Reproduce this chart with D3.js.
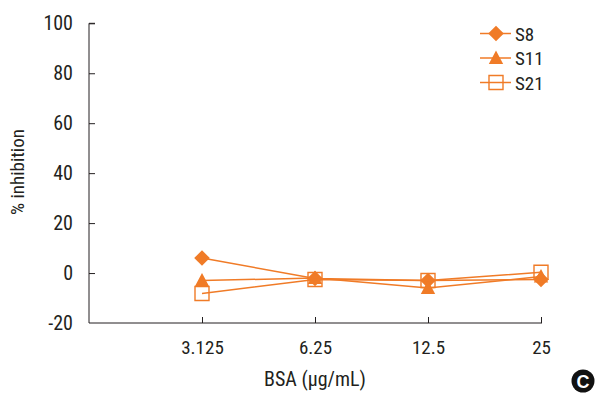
<!DOCTYPE html>
<html><head><meta charset="utf-8">
<script src="https://cdn.jsdelivr.net/npm/d3@7"></script>
<style>
body{margin:0;background:#fff;}
text{font-family:"Liberation Sans Narrow","Roboto Condensed","Arial Narrow",sans-serif;fill:#231f20;}
</style></head>
<body><svg id="c" width="598" height="395"></svg>
<script>
const categories = ["3.125","6.25","12.5","25"];
const S8  = [6, -2.2, -3, -2.6];
const S11 = [-3, -2, -6, -1.4];
const S21 = [-8.2, -2.6, -3, 0.3];
const yTicks = [-20,0,20,40,60,80,100];
const seriesNames = ["S8","S11","S21"];
const color = "#f07b27";

const svg = d3.select("#c");
const x = d3.scalePoint().domain(["", ...categories]).range([89, 541]);
const y = d3.scaleLinear().domain([-20,100]).range([323, 23.3]);

// Y axis
const ya = svg.append("g").attr("transform","translate(89,0)")
  .call(d3.axisLeft(y).tickValues(yTicks).tickSize(-6).tickPadding(16).tickFormat(d=>String(d)));
ya.select(".domain").attr("stroke","#231f20").attr("d", `M6,${y(100)}H0V${y(-20)}`);
ya.selectAll(".tick line").attr("stroke","#231f20");
ya.selectAll(".tick text").style("font-size","20px").attr("fill","#231f20");
ya.selectAll(".tick").filter(d=>d===-20).select("line").remove();

// X axis
const xa = svg.append("g").attr("transform","translate(0,323)")
  .call(d3.axisBottom(x).tickValues(categories).tickSize(-6).tickPadding(18));
xa.select(".domain").attr("stroke","#231f20").attr("d", `M89,0H${x("25")+1}`);
xa.selectAll(".tick line").attr("stroke","#231f20");
xa.selectAll(".tick text").style("font-size","19px").attr("fill","#231f20");

// axis titles
svg.append("text").attr("x",315).attr("y",386).attr("text-anchor","middle")
  .style("font-size","20px").text("BSA (μg/mL)");
svg.append("text").attr("transform","translate(24,172) rotate(-90)").attr("text-anchor","middle")
  .style("font-size","19px").text("% inhibition");

const data = [S8,S11,S21];
const shapePaths = [
  "M0,-7.8L7.8,0L0,7.8L-7.8,0Z",
  "M0,-7.5L7.2,6L-7.2,6Z",
  "M-7,-7H7V7H-7Z"
];
const line = d3.line().x((d,i)=>x(categories[i])).y(d=>y(d));

function marker(g, k, cx, cy){
  const p = g.append("path").attr("transform",`translate(${cx},${cy})`).attr("d", shapePaths[k]);
  if(k===2) p.attr("fill","none").attr("stroke",color).attr("stroke-width",1.4);
  else p.attr("fill",color);
}

data.forEach((vals,k)=>{
  const g = svg.append("g");
  g.append("path").datum(vals).attr("d",line).attr("fill","none")
    .attr("stroke",color).attr("stroke-width",1.5);
  vals.forEach((v,i)=>marker(g,k,x(categories[i]),y(v)));
});

// legend
const ly = [33.5,58,82.5];
seriesNames.forEach((n,k)=>{
  const g = svg.append("g");
  g.append("line").attr("x1",480).attr("x2",511).attr("y1",ly[k]).attr("y2",ly[k])
    .attr("stroke",color).attr("stroke-width",1.5);
  marker(g,k,496,ly[k]);
  g.append("text").attr("x",515).attr("y",ly[k]+7).style("font-size","19px").text(n);
});

// panel badge
svg.append("circle").attr("cx",583).attr("cy",381).attr("r",11.5).attr("fill","#111");
svg.append("text").attr("x",583).attr("y",387.5).attr("text-anchor","middle")
  .style("font-size","18px").style("font-weight","bold").style("font-family","Liberation Sans, Arial, sans-serif")
  .style("fill","#fff").text("C");
</script></body></html>
